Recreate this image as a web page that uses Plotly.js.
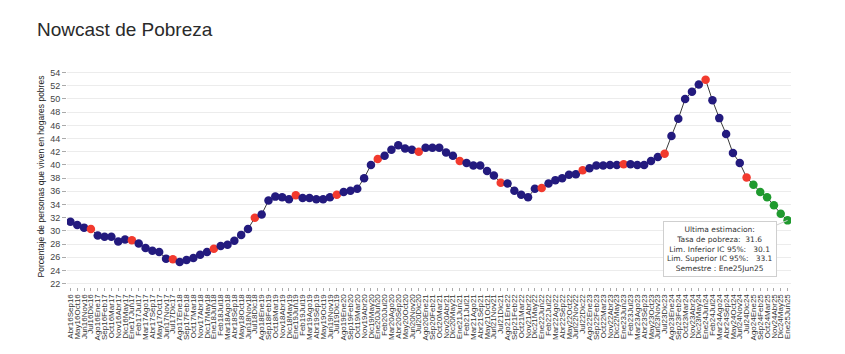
<!DOCTYPE html>
<html>
<head>
<meta charset="utf-8">
<script src="https://cdn.plot.ly/plotly-3.0.1.min.js"></script>
<style>html,body{margin:0;padding:0;background:#fff;}#chart{width:845px;height:354px;}</style>
</head>
<body>
<div id="chart"></div>
<script>
const categorias = [
"Abr16Sep16","May16Oct16","Jun16Nov16","Jul16Dic16","Ago16Ene17","Sep16Feb17","Oct16Mar17","Nov16Abr17","Dic16May17",
"Ene17Jun17","Feb17Jul17","Mar17Ago17","Abr17Sep17","May17Oct17","Jun17Nov17","Jul17Dic17","Ago17Ene18","Sep17Feb18","Oct17Mar18","Nov17Abr18","Dic17May18",
"Ene18Jun18","Feb18Jul18","Mar18Ago18","Abr18Sep18","May18Oct18","Jun18Nov18","Jul18Dic18","Ago18Ene19","Sep18Feb19","Oct18Mar19","Nov18Abr19","Dic18May19",
"Ene19Jun19","Feb19Jul19","Mar19Ago19","Abr19Sep19","May19Oct19","Jun19Nov19","Jul19Dic19","Ago19Ene20","Sep19Feb20","Oct19Mar20","Nov19Abr20","Dic19May20",
"Ene20Jun20","Feb20Jul20","Mar20Ago20","Abr20Sep20","May20Oct20","Jun20Nov20","Jul20Dic20","Ago20Ene21","Sep20Feb21","Oct20Mar21","Nov20Abr21","Dic20May21",
"Ene21Jun21","Feb21Jul21","Mar21Ago21","Abr21Sep21","May21Oct21","Jun21Nov21","Jul21Dic21","Ago21Ene22","Sep21Feb22","Oct21Mar22","Nov21Abr22","Dic21May22",
"Ene22Jun22","Feb22Jul22","Mar22Ago22","Abr22Sep22","May22Oct22","Jun22Nov22","Jul22Dic22","Ago22Ene23","Sep22Feb23","Oct22Mar23","Nov22Abr23","Dic22May23",
"Ene23Jun23","Feb23Jul23","Mar23Ago23","Abr23Sep23","May23Oct23","Jun23Nov23","Jul23Dic23","Ago23Ene24","Sep23Feb24","Oct23Mar24","Nov23Abr24","Dic23May24",
"Ene24Jun24","Feb24Jul24","Mar24Ago24","Abr24Sep24","May24Oct24","Jun24Nov24","Jul24Dic24","Ago24Ene25","Sep24Feb25","Oct24Mar25","Nov24Abr25","Dic24May25",
"Ene25Jun25"
];

const pobreza = [
31.4,30.9,30.5,30.3,29.3,29.1,29.1,28.4,28.7,
28.6,28.1,27.4,27.0,26.8,25.8,25.7,25.3,25.6,25.9,26.4,26.8,
27.3,27.7,27.9,28.5,29.4,30.3,32.0,32.5,34.6,35.2,35.1,34.8,
35.4,35.0,35.0,34.8,34.8,35.1,35.5,35.9,36.1,36.4,38.0,40.0,
40.9,41.4,42.3,43.0,42.5,42.3,42.0,42.6,42.6,42.6,41.9,41.4,
40.6,40.3,39.9,39.9,39.1,38.4,37.3,37.2,36.1,35.5,35.1,36.4,
36.5,37.2,37.7,38.0,38.5,38.6,39.2,39.5,39.9,39.9,40.0,40.0,
40.1,40.1,40.0,40.0,40.6,41.2,41.7,44.4,47.0,50.0,51.1,52.2,
52.9,49.8,47.1,44.7,41.8,40.3,38.1,37.0,35.9,35.1,33.9,32.6,
31.6
];

// n = nowcast, o = dato oficial, p = proyección
const tipo = [
"n","n","n","o","n","n","n","n","n",
"o","n","n","n","n","n","o","n","n","n","n","n",
"o","n","n","n","n","n","o","n","n","n","n","n",
"o","n","n","n","n","n","o","n","n","n","n","n",
"o","n","n","n","n","n","o","n","n","n","n","n",
"o","n","n","n","n","n","o","n","n","n","n","n",
"o","n","n","n","n","n","o","n","n","n","n","n",
"o","n","n","n","n","n","o","n","n","n","n","n",
"o","n","n","n","n","n","o","p","p","p","p","p",
"p"
];

const ultima = {tasa: 31.6, inferior: 30.1, superior: 33.1, semestre: "Ene25Jun25"};

const colores = {n: "#231a7e", o: "#f23a2e", p: "#1f9a2e"};

const trace = {
  type: "scatter",
  mode: "lines+markers",
  x: categorias,
  y: pobreza,
  line: {color: "#3a3a3a", width: 1},
  marker: {size: 8.5, color: tipo.map(t => colores[t])},
  hoverinfo: "x+y"
};

const layout = {
  width: 845, height: 354,
  margin: {l: 67, r: 54, t: 66, b: 67, pad: 0},
  paper_bgcolor: "#fff", plot_bgcolor: "#fff",
  font: {family: "Liberation Sans, Arial, sans-serif", color: "#444"},
  showlegend: false,
  title: {
    text: "Nowcast de Pobreza",
    font: {size: 19, color: "#2a2a2a", family: "Liberation Sans, Arial, sans-serif"},
    xref: "container", x: 37/845, xanchor: "left",
    yref: "container", y: 1 - 29/354, yanchor: "middle"
  },
  xaxis: {
    type: "category",
    range: [-0.5, categorias.length - 0.5],
    tickmode: "array", tickvals: categorias, ticktext: categorias,
    tickangle: -90,
    tickfont: {size: 8, color: "#333"},
    ticks: "outside", ticklen: 3, tickcolor: "#aaa",
    showgrid: false, zeroline: false, showline: false,
    automargin: false
  },
  yaxis: {
    range: [21.5, 55],
    tick0: 22, dtick: 2,
    tickfont: {size: 9, color: "#444"},
    ticks: "outside", ticklen: 4, tickcolor: "#aaa",
    showgrid: true, gridcolor: "#ececec", gridwidth: 1,
    zeroline: false, showline: false,
    automargin: false,
    title: {text: "Porcentaje de personas que viven en hogares pobres", font: {size: 8.5, color: "#222"}, standoff: 4}
  },
  annotations: [{
    x: categorias[categorias.length - 1], y: ultima.tasa,
    xref: "x", yref: "y",
    ax: -68, ay: 29,
    showarrow: true, arrowhead: 0, arrowwidth: 1, arrowcolor: "#cfcfcf",
    text: "Ultima estimacion:<br>Tasa de pobreza:  " + ultima.tasa.toFixed(1) +
          "<br>Lim. Inferior IC 95%:   " + ultima.inferior.toFixed(1) +
          "<br>Lim. Superior IC 95%:   " + ultima.superior.toFixed(1) +
          "<br>Semestre : " + ultima.semestre,
    font: {family: "DejaVu Sans, Verdana, sans-serif", size: 7.5, color: "#333"},
    align: "center",
    bgcolor: "#fff", bordercolor: "#cfcfcf", borderwidth: 1, borderpad: 3
  }]
};

Plotly.newPlot("chart", [trace], layout, {displayModeBar: false, staticPlot: true});
</script>
</body>
</html>
